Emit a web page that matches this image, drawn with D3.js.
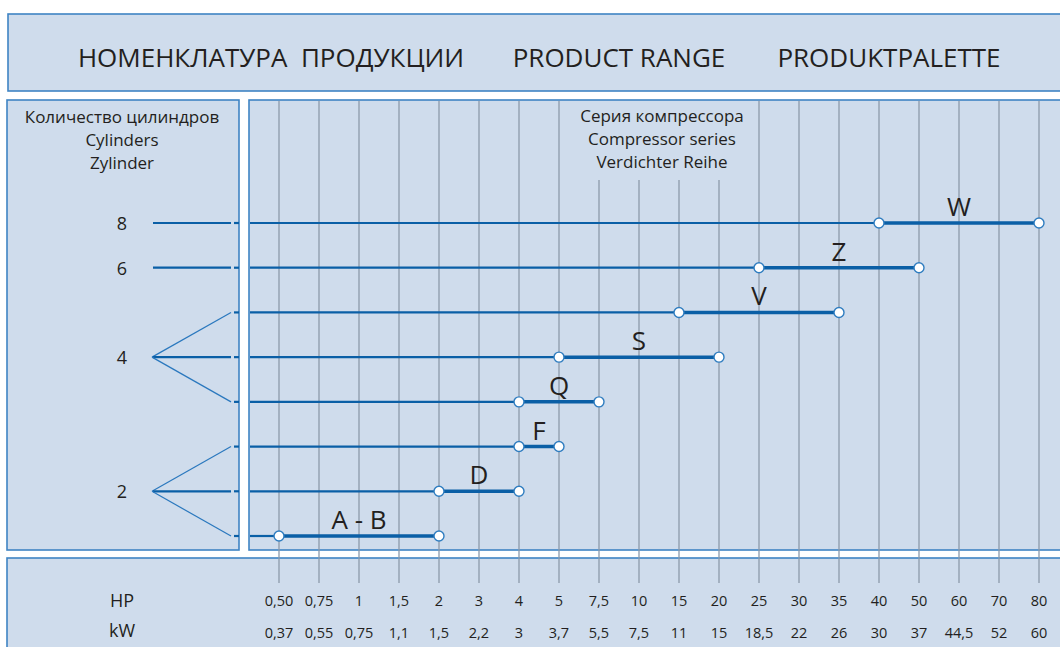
<!DOCTYPE html>
<html>
<head>
<meta charset="utf-8">
<script src="https://cdn.jsdelivr.net/npm/d3@7"></script>
<style>
  body { margin: 0; background: #fff; }
  text { font-family: "Open Sans", "Noto Sans", sans-serif; fill: #231f20; }
</style>
</head>
<body>
<div id="chart"></div>
<script>
const hpTicks = ["0,50","0,75","1","1,5","2","3","4","5","7,5","10","15","20","25","30","35","40","50","60","70","80"];
const kwTicks = ["0,37","0,55","0,75","1,1","1,5","2,2","3","3,7","5,5","7,5","11","15","18,5","22","26","30","37","44,5","52","60"];
const series = ["W","Z","V","S","Q","F","D","A - B"];
const seriesFrom = ["40","25","15","5","4","4","2","0,50"];
const seriesTo = ["80","50","35","20","7,5","5","4","2"];
const cylinderLabels = ["8","6","4","2"];
const cylinderRows = [["W"],["Z"],["V","S","Q"],["F","D","A - B"]];
const shortTicks = ["7,5","10","15","20"]; // grid lines that stop under the header text

const width = 1060, height = 647;
const fill = "#cfdcec", border = "#3f84c4", blue = "#0a5fa6";

const svg = d3.select("#chart").append("svg")
    .attr("width", width).attr("height", height);

svg.append("rect").attr("width", width).attr("height", height).attr("fill", "#fff");

// panels
const panels = [
  {x: 8, y: 14, w: 1060, h: 77},
  {x: 7, y: 100, w: 232, h: 450},
  {x: 249, y: 100, w: 820, h: 450},
  {x: 7, y: 558, w: 1060, h: 100}
];
svg.selectAll(".panel").data(panels).enter().append("rect")
    .attr("class", "panel")
    .attr("x", d => d.x).attr("y", d => d.y)
    .attr("width", d => d.w).attr("height", d => d.h)
    .attr("fill", fill).attr("stroke", border).attr("stroke-width", 1.6);

// title
const titles = [
  {t: "НОМЕНКЛАТУРА  ПРОДУКЦИИ", x: 271},
  {t: "PRODUCT RANGE", x: 619},
  {t: "PRODUKTPALETTE", x: 889}
];
svg.selectAll(".title").data(titles).enter().append("text")
    .attr("class", "title")
    .attr("x", d => d.x).attr("y", 67)
    .attr("text-anchor", "middle")
    .attr("font-size", 26)
    .style("white-space", "pre")
    .text(d => d.t);

const x = d3.scalePoint().domain(hpTicks).range([279, 1039]);
const y = d3.scalePoint().domain(series).range([223, 536]);

// grid lines
svg.selectAll(".grid").data(hpTicks).enter().append("line")
    .attr("class", "grid")
    .attr("x1", d => x(d)).attr("x2", d => x(d))
    .attr("y1", d => shortTicks.includes(d) ? 180 : 101)
    .attr("y2", 583)
    .attr("stroke", "#8d9aab").attr("stroke-width", 1.3);

// headers
const headL = ["Количество цилиндров", "Cylinders", "Zylinder"];
const headR = ["Серия компрессора", "Compressor series", "Verdichter Reihe"];
svg.selectAll(".headL").data(headL).enter().append("text")
    .attr("x", 122).attr("y", (d, i) => 123 + i * 23)
    .attr("text-anchor", "middle").attr("font-size", 17).text(d => d);
svg.selectAll(".headR").data(headR).enter().append("text")
    .attr("x", 662).attr("y", (d, i) => 122 + i * 23)
    .attr("text-anchor", "middle").attr("font-size", 17).text(d => d);

// cylinder labels and connectors
const apex = 152, joint = 231;
cylinderRows.forEach((rows, i) => {
  const mid = rows[Math.floor(rows.length / 2)];
  svg.append("text")
      .attr("x", 122).attr("y", y(mid) + 7)
      .attr("text-anchor", "middle").attr("font-size", 18)
      .text(cylinderLabels[i]);
  rows.forEach(r => {
    const straight = r === mid;
    svg.append("line")
        .attr("x1", apex + (straight ? 1 : 0)).attr("y1", y(mid))
        .attr("x2", joint).attr("y2", y(r))
        .attr("stroke", straight ? blue : "#2a78be")
        .attr("stroke-width", straight ? 2.2 : 1.2);
  });
});

// series rows
const rows = series.map((s, i) => ({name: s, from: seriesFrom[i], to: seriesTo[i]}));
const g = svg.selectAll(".row").data(rows).enter().append("g").attr("class", "row");

g.append("line")
    .attr("x1", 234).attr("x2", 239)
    .attr("y1", d => y(d.name)).attr("y2", d => y(d.name))
    .attr("stroke", blue).attr("stroke-width", 2.2);
g.append("line")
    .attr("x1", 250).attr("x2", d => x(d.from))
    .attr("y1", d => y(d.name)).attr("y2", d => y(d.name))
    .attr("stroke", blue).attr("stroke-width", 2.2);
g.append("line")
    .attr("x1", d => x(d.from)).attr("x2", d => x(d.to))
    .attr("y1", d => y(d.name)).attr("y2", d => y(d.name))
    .attr("stroke", blue).attr("stroke-width", 3.5);
g.selectAll("circle").data(d => [d.from, d.to].map(v => ({v, row: d.name}))).enter()
  .append("circle")
    .attr("cx", d => x(d.v)).attr("cy", d => y(d.row)).attr("r", 5)
    .attr("fill", "#fff").attr("stroke", "#2f7dc0").attr("stroke-width", 1.4);
g.append("text")
    .attr("x", d => (x(d.from) + x(d.to)) / 2)
    .attr("y", d => y(d.name) - 7)
    .attr("text-anchor", "middle").attr("font-size", 26)
    .style("white-space", "pre")
    .text(d => d.name);

// bottom axis labels
svg.append("text").attr("x", 122).attr("y", 607).attr("text-anchor", "middle")
    .attr("font-size", 18).text("HP");
svg.append("text").attr("x", 122).attr("y", 637).attr("text-anchor", "middle")
    .attr("font-size", 18).text("kW");

svg.selectAll(".hp").data(hpTicks).enter().append("text")
    .attr("x", d => x(d)).attr("y", 606)
    .attr("text-anchor", "middle").attr("font-size", 14.5).text(d => d);
svg.selectAll(".kw").data(kwTicks).enter().append("text")
    .attr("x", (d, i) => x(hpTicks[i])).attr("y", 638)
    .attr("text-anchor", "middle").attr("font-size", 14.5).text(d => d);
</script>
</body>
</html>
